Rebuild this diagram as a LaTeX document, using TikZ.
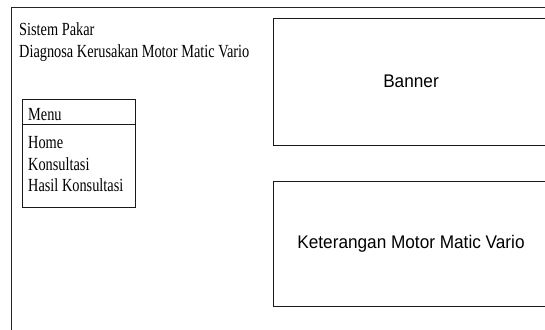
\documentclass[tikz,border=0pt]{standalone}
\usepackage{fontspec}
\newfontfamily\tnr[FakeStretch=0.775]{Liberation Serif}
\newfontfamily\arl[FakeStretch=0.94]{Liberation Sans}
\begin{document}
\begin{tikzpicture}[x=1pt,y=-1pt,
  frame/.style={draw=black!85,line width=0.9pt},
  panel/.style={draw=black!90,line width=0.9pt,minimum width=276pt,inner sep=0pt,font=\arl\fontsize{18.3}{21}\selectfont},
  serif/.style={inner sep=0pt,font=\tnr\fontsize{18.5}{21}\selectfont,anchor=base west},
  menubox/.style={draw=black!90,line width=0.9pt,inner sep=0pt,minimum width=113pt,anchor=north west}]
\useasboundingbox (0,0) rectangle (545,329);
\clip (0,0) rectangle (545,329);
% outer frame
\draw[frame] (11.5,340) -- (11.5,7) -- (560,7);
% title
\node[serif] (t1) at (19,36) {Sistem Pakar};
\node[serif] (t2) at (19,57.5) {Diagnosa Kerusakan Motor Matic Vario};
% menu
\node[menubox,minimum height=25pt] (menuhead) at (22,99) {};
\node[menubox,minimum height=83pt] (menubody) at (22,124) {};
\node[serif] (m0) at (28,120.5) {Menu};
\node[serif] (m1) at (28,148.5) {Home};
\node[serif] (m2) at (28,170) {Konsultasi};
\node[serif] (m3) at (28,191.5) {Hasil Konsultasi};
% panels
\node[panel,minimum height=127pt] (banner) at (411,81.5) {Banner};
\node[panel,minimum height=125pt] (ket) at (411,243.5) {Keterangan Motor Matic Vario};
\end{tikzpicture}
\end{document}
